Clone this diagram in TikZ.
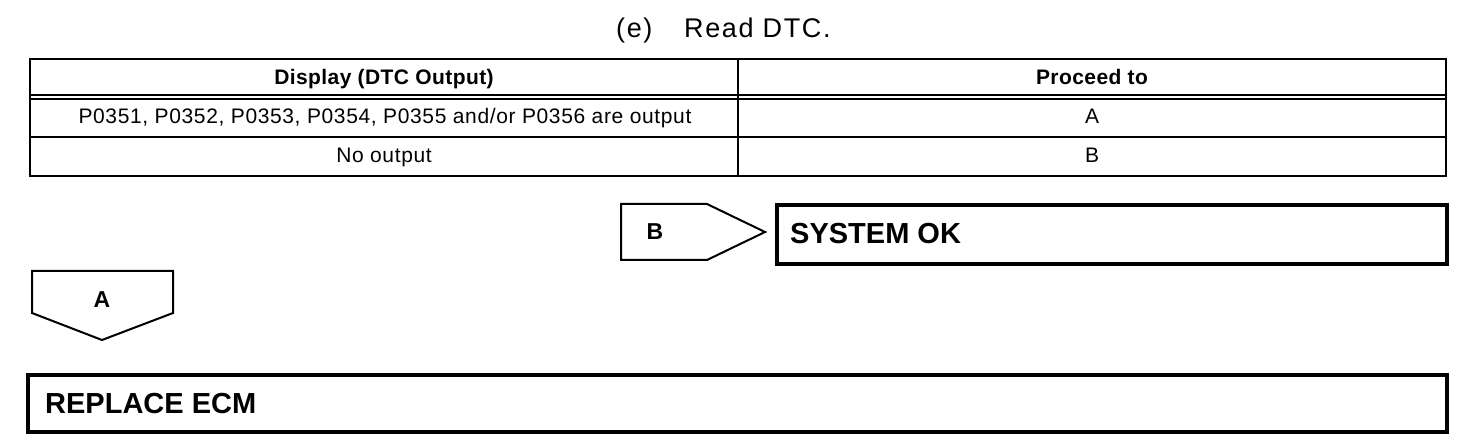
\documentclass[tikz,border=0pt]{standalone}
\usepackage{fontspec}
\setmainfont{Liberation Sans}
\begin{document}
\begin{tikzpicture}[x=1pt,y=-1pt,
  tline/.style={line width=2pt},
  bigbox/.style={line width=3.5pt},
  pent/.style={line width=2pt,line join=miter},
  cell/.style={inner sep=0pt,anchor=base,font=\fontsize{21}{25}\selectfont\addfontfeature{LetterSpace=3}},
  head/.style={inner sep=0pt,anchor=base,font=\fontsize{21}{25}\selectfont\bfseries\addfontfeature{LetterSpace=2}},
  big/.style={inner sep=0pt,anchor=base west,font=\fontsize{29}{34}\selectfont\bfseries},
  lab/.style={inner sep=0pt,anchor=base,font=\fontsize{23}{27}\selectfont\bfseries},
  ttl/.style={inner sep=0pt,anchor=base west,font=\fontsize{27}{31}\selectfont\addfontfeature{LetterSpace=6}}]
\useasboundingbox (0,0) rectangle (1472,446);
% title
\node[ttl] (t1) at (616,38) {(e)};
\node[ttl] (t2) at (684,38) {Read DTC.};
% table
\draw[tline] (30,59) rectangle (1446,176);
\draw[tline] (30,95) -- (1446,95);
\draw[tline] (30,99) -- (1446,99);
\draw[tline] (30,137) -- (1446,137);
\draw[tline] (738,59) -- (738,176);
\node[head] (h1) at (384,85) {Display (DTC Output)};
\node[head] (h2) at (1092,85) {Proceed to};
\node[cell] (c11) at (385,124) {P0351, P0352, P0353, P0354, P0355 and/or P0356 are output};
\node[cell] (c12) at (1092,124) {A};
\node[cell] (c21) at (384,163) {No output};
\node[cell] (c22) at (1092,163) {B};
% B pentagon and SYSTEM OK
\draw[pent] (621,204) -- (707,204) -- (765,232) -- (707,260) -- (621,260) -- cycle;
\node[lab] (pb) at (655,240) {B};
\draw[bigbox] (777,205) rectangle (1447,264);
\node[big] (sok) at (790,244) {SYSTEM OK};
% A pentagon and REPLACE ECM
\draw[pent] (32,271) -- (173,271) -- (173,313) -- (102,340) -- (32,313) -- cycle;
\node[lab] (pa) at (102,308) {A};
\draw[bigbox] (28,375) rectangle (1447,432);
\node[big] (rep) at (45,413) {REPLACE ECM};
\end{tikzpicture}
\end{document}
